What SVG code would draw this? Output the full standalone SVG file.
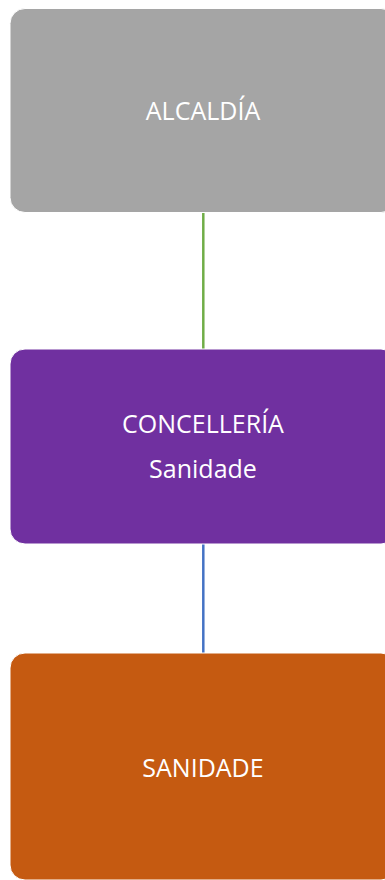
<svg xmlns="http://www.w3.org/2000/svg" width="385" height="880" viewBox="0 0 385 880">
<style>
.box{stroke:#ffffff;stroke-width:1}
.lbl{font-family:"Open Sans","Noto Sans",sans-serif;font-size:25px;fill:#ffffff;text-anchor:middle}
.conn{fill:none;stroke-width:2.5}
</style>
<rect width="385" height="880" fill="#ffffff"/>
<g id="connectors">
<line class="conn" x1="203.3" y1="212" x2="203.3" y2="349" stroke="#70AD47"/>
<line class="conn" x1="203.3" y1="544" x2="203.3" y2="653" stroke="#4472C4"/>
</g>
<g id="alcaldia">
<rect class="box" x="10" y="8.5" width="386" height="204" rx="15" fill="#A5A5A5"/>
<text class="lbl" x="203" y="119.5">ALCALDÍA</text>
</g>
<g id="concelleria">
<rect class="box" x="10" y="349" width="386" height="195" rx="15" fill="#7030A0"/>
<text class="lbl" x="203" y="433">CONCELLERÍA</text>
<text class="lbl" x="203" y="478">Sanidade</text>
</g>
<g id="sanidade">
<rect class="box" x="10" y="653" width="386" height="227" rx="15" fill="#C55A11"/>
<text class="lbl" x="203" y="777">SANIDADE</text>
</g>
</svg>
